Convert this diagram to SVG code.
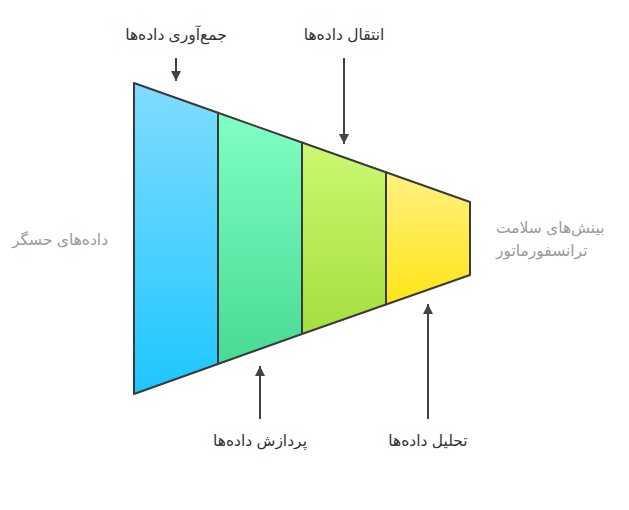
<svg xmlns="http://www.w3.org/2000/svg" width="629" height="510" viewBox="0 0 629 510">
<defs>
<linearGradient id="g1" x1="0" y1="0" x2="0" y2="1"><stop offset="0" stop-color="#80dcff"/><stop offset="1" stop-color="#1ec6ff"/></linearGradient>
<linearGradient id="g2" x1="0" y1="0" x2="0" y2="1"><stop offset="0" stop-color="#80ffc4"/><stop offset="1" stop-color="#48da94"/></linearGradient>
<linearGradient id="g3" x1="0" y1="0" x2="0" y2="1"><stop offset="0" stop-color="#ccf872"/><stop offset="1" stop-color="#a6de3e"/></linearGradient>
<linearGradient id="g4" x1="0" y1="0" x2="0" y2="1"><stop offset="0" stop-color="#fff282"/><stop offset="1" stop-color="#ffe416"/></linearGradient>
<marker id="ah" viewBox="0 0 10 10" refX="10" refY="5" markerWidth="5" markerHeight="5" markerUnits="strokeWidth" orient="auto">
<path d="M0,0 L10,5 L0,10 Z" fill="#444"/>
</marker>
<style>
.seg{stroke:#3a3a3a;stroke-width:2;stroke-linejoin:round}
.lbl{font-family:"Liberation Sans","DejaVu Sans",sans-serif;font-size:15.5px;fill:#333}
.side{font-family:"Liberation Sans","DejaVu Sans",sans-serif;font-size:15.5px;fill:#9a9a9a}
.arr{stroke:#444;stroke-width:2;fill:none}
</style>
</defs>
<g id="segment1"><polygon class="seg" fill="url(#g1)" points="134,83 218,112.8 218,364 134,394"/></g>
<g id="segment2"><polygon class="seg" fill="url(#g2)" points="218,112.8 302,142.5 302,334 218,364"/></g>
<g id="segment3"><polygon class="seg" fill="url(#g3)" points="302,142.5 386,172.2 386,304.5 302,334"/></g>
<g id="segment4"><polygon class="seg" fill="url(#g4)" points="386,172.2 470,202 470,275 386,304.5"/></g>
<g id="connectors">
<line class="arr" x1="176" y1="58" x2="176" y2="81" marker-end="url(#ah)"/>
<line class="arr" x1="344" y1="58" x2="344" y2="144" marker-end="url(#ah)"/>
<line class="arr" x1="260" y1="419" x2="260" y2="366" marker-end="url(#ah)"/>
<line class="arr" x1="428" y1="419" x2="428" y2="304" marker-end="url(#ah)"/>
</g>
<g id="labels">
<text class="lbl" x="176" y="40" text-anchor="middle">جمع&#x200C;آوری داده&#x200C;ها</text>
<text class="lbl" x="344" y="40" text-anchor="middle">انتقال داده&#x200C;ها</text>
<text class="lbl" x="260" y="446" text-anchor="middle">پردازش داده&#x200C;ها</text>
<text class="lbl" x="428" y="446" text-anchor="middle">تحلیل داده&#x200C;ها</text>
<text class="side" x="60" y="245" text-anchor="middle">داده&#x200C;های حسگر</text>
<text class="side" x="496" y="233" text-anchor="start">بینش&#x200C;های سلامت</text>
<text class="side" x="496" y="256" text-anchor="start">ترانسفورماتور</text>
</g>
</svg>
